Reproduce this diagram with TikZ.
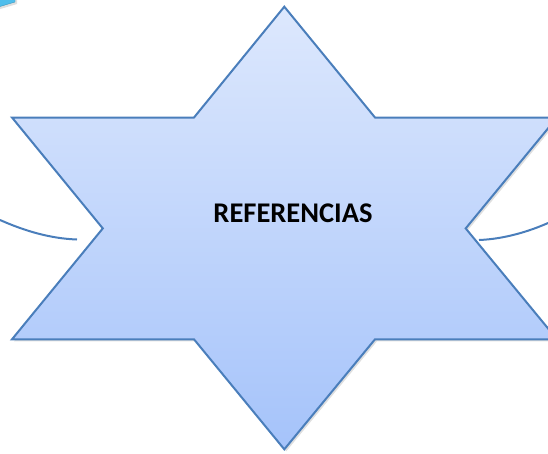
\documentclass[tikz,border=0pt]{standalone}
\usepackage{fontspec}
\setmainfont{Carlito}
\usetikzlibrary{shadows}

\definecolor{starline}{RGB}{74,126,187}
\definecolor{startop}{RGB}{221,232,253}
\definecolor{starbottom}{RGB}{165,195,250}
\definecolor{tipfill}{RGB}{79,190,236}

\begin{document}
\begin{tikzpicture}[x=1pt,y=-1pt]
	\tikzstyle{every node}=[inner sep=0pt]
	\tikzstyle{starshape}=[draw=starline, line width=2pt, line join=miter, top color=startop, bottom color=starbottom, drop shadow={opacity=0.25, shadow xshift=2pt, shadow yshift=-2pt}]
	\tikzstyle{link}=[draw=starline, line width=2pt]
	\useasboundingbox (0,0) rectangle (548,453);
	% star corners
	\coordinate (top) at (284.3,6.7);
	\coordinate (ul) at (194,117.5);
	\coordinate (ur) at (375,117.5);
	\coordinate (rtop) at (557,117.5);
	\coordinate (rin) at (465.7,228.4);
	\coordinate (rbot) at (557,339.3);
	\coordinate (lr) at (375,339.3);
	\coordinate (bot) at (284.3,449.3);
	\coordinate (ll) at (194,339.3);
	\coordinate (lbot) at (12,339.3);
	\coordinate (lin) at (102.8,228.4);
	\coordinate (ltop) at (12,117.5);
	% piece of a shape in the corner
	\coordinate (c1) at (-5,-5);
	\coordinate (c2) at (15,-5);
	\coordinate (c3) at (15,2);
	\coordinate (c4) at (-5,8);
	\draw[fill=tipfill, draw=tipfill!80!black, drop shadow={opacity=0.25, shadow xshift=2pt, shadow yshift=-2pt}] (c1) -- (c2) -- (c3) -- (c4) -- cycle;
	\path[starshape] (top) -- (ur) -- (rtop) -- (rin) -- (rbot) -- (lr) -- (bot) -- (ll) -- (lbot) -- (lin) -- (ltop) -- (ul) -- cycle;
	\draw (293,213.5) node (ref) {\fontsize{28.5}{32}\selectfont\bfseries REFERENCIAS};
	% links
	\coordinate (lfree) at (0,220);
	\coordinate (lend) at (77,239.5);
	\coordinate (rend) at (479,240);
	\coordinate (rfree) at (548,223);
	\draw[link] (lfree) .. controls (25,231) and (50,238.5) .. (lend);
	\draw[link] (rend) .. controls (505,239) and (530,231) .. (rfree);
\end{tikzpicture}
\end{document}
